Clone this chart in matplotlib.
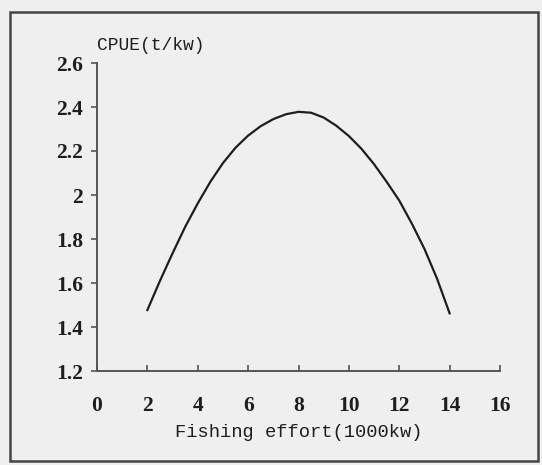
import matplotlib
matplotlib.use("Agg")
import matplotlib.pyplot as plt
from matplotlib.patches import Rectangle

# fishing effort (1000 kW) and CPUE (t/kW)
effort = [2, 2.5, 3, 3.5, 4, 4.5, 5, 5.5, 6, 6.5, 7, 7.5, 8,
          8.5, 9, 9.5, 10, 10.5, 11, 11.5, 12, 12.5, 13, 13.5, 14]
cpue = [1.477, 1.61, 1.735, 1.855, 1.962, 2.06, 2.145, 2.215, 2.27, 2.313, 2.345, 2.367, 2.378,
        2.374, 2.352, 2.315, 2.268, 2.21, 2.14, 2.06, 1.975, 1.87, 1.755, 1.62, 1.462]

x_ticks = [0, 2, 4, 6, 8, 10, 12, 14, 16]
y_ticks = [1.2, 1.4, 1.6, 1.8, 2.0, 2.2, 2.4, 2.6]
y_tick_labels = ["1.2", "1.4", "1.6", "1.8", "2", "2.2", "2.4", "2.6"]

bg = "#efefef"
ink = "#1e1e1e"

fig = plt.figure(figsize=(5.42, 4.65), dpi=100, facecolor=bg)

# outer frame around the figure
fig.patches.append(Rectangle((10 / 542, 1 - 461 / 465), 528 / 542, 449 / 465,
                             transform=fig.transFigure, fill=False,
                             edgecolor="#444444", linewidth=1.8))

ax = fig.add_axes([97 / 542, 1 - 371 / 465, 403 / 542, 308 / 465])
ax.set_facecolor(bg)
ax.plot(effort, cpue, color=ink, linewidth=1.6)

ax.set_xlim(0, 16)
ax.set_ylim(1.2, 2.6)
ax.set_xticks(x_ticks)
ax.set_yticks(y_ticks)
ax.set_yticklabels(y_tick_labels)

for s in ["top", "right"]:
    ax.spines[s].set_visible(False)
for s in ["left", "bottom"]:
    ax.spines[s].set_color("#555555")
    ax.spines[s].set_linewidth(1.4)

serif = "Liberation Serif"
ax.tick_params(axis="x", direction="in", length=4, width=1.2, color="#555555",
               pad=18, labelsize=15.5, labelcolor=ink)
ax.tick_params(axis="y", direction="out", length=4, width=1.2, color="#555555",
               pad=6, labelsize=15.5, labelcolor=ink)
for lab in ax.get_xticklabels() + ax.get_yticklabels():
    lab.set_fontfamily(serif)
    lab.set_fontweight("semibold")

ax.set_xlabel("Fishing effort(1000kw)", fontsize=13.5, family="Liberation Mono",
              color=ink, labelpad=6)
fig.text(97 / 542, 1 - 45 / 465, "CPUE(t/kw)", fontsize=13, family="Liberation Mono",
         color=ink, ha="left", va="center")

fig.savefig("out.png", dpi=100, facecolor=bg)
